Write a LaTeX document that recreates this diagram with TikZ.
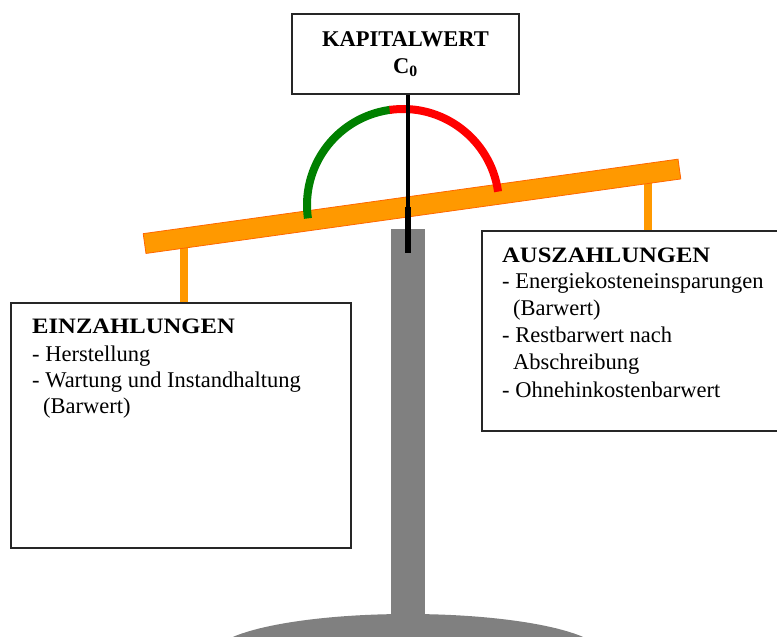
\documentclass[tikz,border=0pt]{standalone}
\usepackage{fontspec}
\setmainfont{Liberation Serif}
\newfontfamily\wideheadfont{Liberation Serif}[FakeStretch=1.12]
\definecolor{beamfill}{HTML}{FF9900}
\definecolor{beamedge}{HTML}{FF6600}
\definecolor{standgray}{HTML}{808080}
\definecolor{gaugegreen}{HTML}{008000}
\definecolor{gaugered}{HTML}{FF0000}
\begin{document}
\begin{tikzpicture}[x=1pt,y=-1pt,
  panel/.style={draw=black!85, line width=1.6pt, fill=white, anchor=north west, inner sep=0pt},
  hanger/.style={draw=beamfill, line width=8pt},
  beambar/.style={fill=beamfill, draw=beamedge, line width=0.8pt, inner sep=0pt,
    minimum width=540pt, minimum height=20pt, rotate=7.93},
  gauge/.style={line width=8pt},
  headline/.style={font=\wideheadfont\fontsize{22}{26}\selectfont\bfseries, inner sep=0pt, anchor=base west},
  bodytext/.style={inner sep=0pt, anchor=base west, align=left},
]
\useasboundingbox (0,0) rectangle (777,637);
\begin{scope}
\clip (0,0) rectangle (777,637);

% stand: pole and foot
\fill[standgray] (391,229) rectangle (425,640);
\fill[standgray] (408,655) ellipse [x radius=195, y radius=41];

% pans hanging from the beam
\node[panel, minimum width=340pt, minimum height=245pt] (ein) at (10,302) {};
\node[panel, minimum width=300pt, minimum height=200pt] (aus) at (481,230) {};
\coordinate (lhook) at (184,246);
\coordinate (rhook) at (648,180);
\draw[hanger] (lhook) -- (ein.north -| lhook);
\draw[hanger] (rhook) -- (aus.north -| rhook);

% beam
\node[beambar] (beam) at (412,206.3) {};

% gauge arc
\coordinate (gc) at (403,205);
\draw[gauge, gaugegreen] ([shift={(172:96)}]gc) arc[start angle=172, end angle=263, radius=96];
\draw[gauge, gaugered] ([shift={(262:96)}]gc) arc[start angle=262, end angle=352, radius=96];

% title box and pointer
\node[draw=black!85, line width=1.6pt, fill=white, inner sep=0pt,
  minimum width=227pt, minimum height=80pt] (kw) at (405.5,54) {};
\coordinate (pivot) at (408,207);
\coordinate (pin) at (408,253);
\draw[line width=3.3pt] (kw.south -| pivot) -- (pivot);
\draw[line width=5.8pt] (pivot) -- (pin);

% labels (multi-line nodes are placed by the baseline of their last line)
\node[font=\fontsize{22.5}{26}\selectfont\bfseries, inner sep=0pt, anchor=base] (kwt) at (405.5,46) {KAPITALWERT};
\node[font=\fontsize{22.5}{26}\selectfont\bfseries, inner sep=0pt, anchor=base] (kwc) at (405.5,73) {C\textsubscript{0}};

\node[headline] (eint) at (32,333) {EINZAHLUNGEN};
\node[bodytext, font=\fontsize{22.5}{25.6}\selectfont] (einb) at (32,413)
  {- Herstellung\\- Wartung und Instandhaltung\\\hspace*{11pt}(Barwert)};

\node[headline] (aust) at (502,262) {AUSZAHLUNGEN};
\node[bodytext, font=\fontsize{22.5}{27.2}\selectfont] (ausb) at (502,397)
  {- Energiekosteneinsparungen\\\hspace*{11pt}(Barwert)\\- Restbarwert nach\\\hspace*{11pt}Abschreibung\\- Ohnehinkostenbarwert};
\end{scope}
\end{tikzpicture}
\end{document}
